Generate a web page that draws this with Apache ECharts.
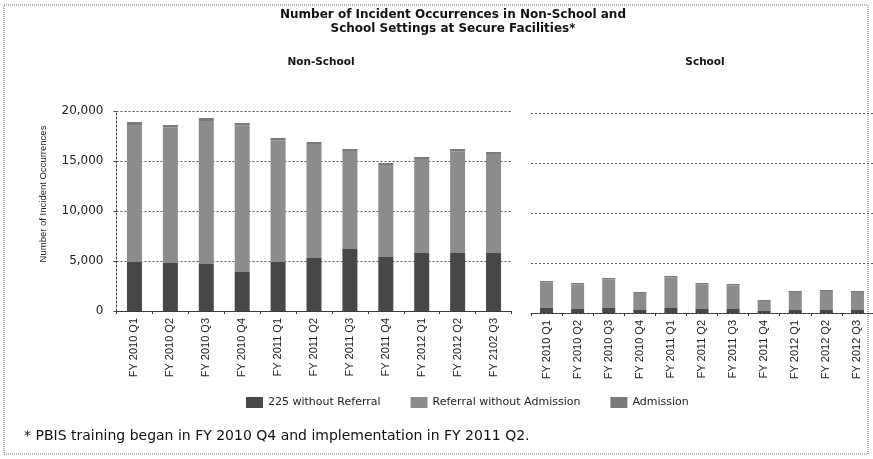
<!DOCTYPE html>
<html>
<head>
<meta charset="utf-8">
<script src="https://cdn.jsdelivr.net/npm/echarts@6/dist/echarts.min.js"></script>
<style>
  html, body { margin: 0; padding: 0; background: #ffffff; }
  #chart { width: 873px; height: 459px; }
</style>
</head>
<body>
<div id="chart"></div>
<script>
// Quarter labels for each panel (the non-school axis carries its own label set)
const nonSchoolQuarters = ['FY 2010 Q1', 'FY 2010 Q2', 'FY 2010 Q3', 'FY 2010 Q4', 'FY 2011 Q1', 'FY 2011 Q2',
  'FY 2011 Q3', 'FY 2011 Q4', 'FY 2012 Q1', 'FY 2012 Q2', 'FY 2102 Q3'];
const schoolQuarters = ['FY 2010 Q1', 'FY 2010 Q2', 'FY 2010 Q3', 'FY 2010 Q4', 'FY 2011 Q1', 'FY 2011 Q2',
  'FY 2011 Q3', 'FY 2011 Q4', 'FY 2012 Q1', 'FY 2012 Q2', 'FY 2012 Q3'];

const seriesNames = ['225 without Referral', 'Referral without Admission', 'Admission'];

// Non-school incident counts per quarter
const nonSchoolNoReferral = [4900, 4800, 4700, 3900, 4900, 5300, 6200, 5400, 5800, 5800, 5800];
const nonSchoolReferral   = [13700, 13550, 14300, 14650, 12150, 11400, 9800, 9200, 9400, 10150, 9900];
const nonSchoolAdmission  = [300, 250, 300, 250, 250, 200, 200, 200, 200, 250, 200];

// School incident counts per quarter
const schoolNoReferral = [500, 400, 500, 300, 500, 400, 400, 200, 300, 300, 300];
const schoolReferral   = [2550, 2450, 2850, 1700, 3050, 2450, 2350, 1000, 1800, 1900, 1800];
const schoolAdmission  = [150, 150, 150, 100, 150, 150, 150, 100, 100, 100, 100];

const yTicks = [0, 5000, 10000, 15000, 20000];

const titleLines = ['Number of Incident Occurrences in Non-School and', 'School Settings at Secure Facilities*'];
const panelTitles = ['Non-School', 'School'];
const yAxisTitle = 'Number of Incident Occurrences';
const footnote = '* PBIS training began in FY 2010 Q4 and implementation in FY 2011 Q2.';

const colors = ['#474747', '#8c8c8c', '#7a7a7a'];
const gridLine = { show: true, lineStyle: { color: '#5a5a5a', type: [2, 2], width: 1 } };
const fmt = v => String(v).replace(/\B(?=(\d{3})+(?!\d))/g, ',');

function barSeries(name, data, idx, color, width) {
  return {
    name: name, type: 'bar', stack: 'p' + idx, data: data,
    xAxisIndex: idx, yAxisIndex: idx, barWidth: width,
    itemStyle: { color: color }, emphasis: { disabled: true }
  };
}

const xAxisCommon = {
  axisLine: { lineStyle: { color: '#333', type: [3, 1] } },
  axisTick: { show: true, length: 3, lineStyle: { color: '#333' } },
  axisLabel: { rotate: 90, fontFamily: 'Liberation Sans', fontSize: 11, color: '#222', margin: 7 }
};

const chart = echarts.init(document.getElementById('chart'), null, { renderer: 'canvas' });
chart.setOption({
  animation: false,
  backgroundColor: '#ffffff',
  color: colors,
  title: [
    { text: titleLines.join('\n'), left: 448, top: 3, textAlign: 'center',
      textStyle: { fontFamily: 'DejaVu Sans', fontWeight: 'bold', fontSize: 12, lineHeight: 14, color: '#111' } },
    { text: panelTitles[0], left: 316, top: 52, textAlign: 'center',
      textStyle: { fontFamily: 'DejaVu Sans', fontWeight: 'bold', fontSize: 10.5, color: '#111' } },
    { text: panelTitles[1], left: 700, top: 52, textAlign: 'center',
      textStyle: { fontFamily: 'DejaVu Sans', fontWeight: 'bold', fontSize: 10.5, color: '#111' } }
  ],
  legend: {
    data: seriesNames, left: 241, top: 392, itemWidth: 17, itemHeight: 11, itemGap: 30,
    icon: 'rect',
    textStyle: { fontFamily: 'DejaVu Sans', fontSize: 11, color: '#222' }
  },
  grid: [
    { left: 116.5, top: 111, width: 395, height: 200 },
    { left: 531, top: 113, width: 342, height: 200 }
  ],
  xAxis: [
    Object.assign({ type: 'category', gridIndex: 0, data: nonSchoolQuarters }, xAxisCommon),
    Object.assign({ type: 'category', gridIndex: 1, data: schoolQuarters }, xAxisCommon)
  ],
  yAxis: [
    { type: 'value', gridIndex: 0, min: yTicks[0], max: yTicks[yTicks.length - 1], interval: yTicks[1] - yTicks[0],
      axisLine: { show: true, lineStyle: { color: '#444', type: [2, 2] } },
      axisTick: { show: true, length: 3, lineStyle: { color: '#444' } },
      axisLabel: { formatter: fmt, fontFamily: 'DejaVu Sans', fontSize: 12, color: '#222', margin: 13 },
      splitLine: gridLine },
    { type: 'value', gridIndex: 1, min: yTicks[0], max: yTicks[yTicks.length - 1], interval: yTicks[1] - yTicks[0],
      axisLine: { show: false }, axisTick: { show: false }, axisLabel: { show: false },
      splitLine: gridLine }
  ],
  graphic: [
    { type: 'rect', shape: { x: 4, y: 5, width: 864, height: 449 }, silent: true,
      style: { fill: null, stroke: '#777', lineWidth: 1, lineDash: [1, 1] } },
    { type: 'text', x: 43, y: 194, rotation: Math.PI / 2, silent: true,
      style: { text: yAxisTitle, fontFamily: 'Liberation Sans', fontSize: 9.5, fill: '#222',
        align: 'center', verticalAlign: 'middle' } },
    { type: 'text', left: 24, top: 429,
      style: { text: footnote, fontFamily: 'DejaVu Sans', fontSize: 14, fill: '#111' } }
  ],
  series: [
    barSeries(seriesNames[0], nonSchoolNoReferral, 0, colors[0], 15),
    barSeries(seriesNames[1], nonSchoolReferral, 0, colors[1], 15),
    barSeries(seriesNames[2], nonSchoolAdmission, 0, colors[2], 15),
    barSeries(seriesNames[0], schoolNoReferral, 1, colors[0], 13),
    barSeries(seriesNames[1], schoolReferral, 1, colors[1], 13),
    barSeries(seriesNames[2], schoolAdmission, 1, colors[2], 13)
  ]
});
</script>
</body>
</html>
